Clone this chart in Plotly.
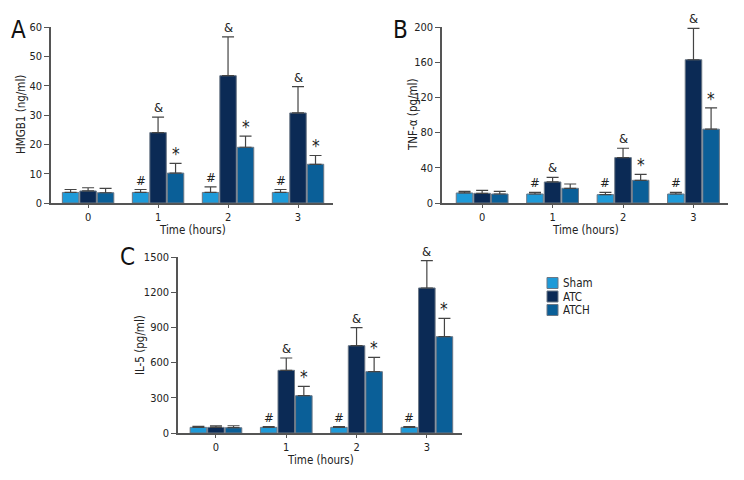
import plotly.graph_objects as go

groups = [0, 1, 2, 3]
tick_labels = ["0", "1", "2", "3"]
series_names = ["Sham", "ATC", "ATCH"]
series_colors = ["#1E9AD8", "#0B2A55", "#0A5F98"]

# Panel A: HMGB1 (ng/ml)
hmgb1_sham = [3.6, 3.6, 3.6, 3.6]
hmgb1_atc = [4.1, 24.0, 43.4, 30.7]
hmgb1_atch = [3.5, 10.2, 19.0, 13.2]
hmgb1_sham_err = [1.0, 1.0, 1.9, 1.0]
hmgb1_atc_err = [1.1, 5.3, 13.2, 9.0]
hmgb1_atch_err = [1.5, 3.3, 3.8, 3.0]
hmgb1_marks = [["", "#", "#", "#"], ["", "&", "&", "&"], ["", "*", "*", "*"]]

# Panel B: TNF-α (pg/ml)
tnf_sham = [11.4, 10.2, 9.5, 10.2]
tnf_atc = [11.0, 23.9, 51.6, 162.8]
tnf_atch = [10.2, 16.7, 25.8, 83.9]
tnf_sham_err = [1.9, 1.9, 2.6, 1.9]
tnf_atc_err = [3.4, 5.3, 10.6, 35.7]
tnf_atch_err = [3.0, 4.9, 6.8, 24.3]
tnf_marks = [["", "#", "#", "#"], ["", "&", "&", "&"], ["", "", "*", "*"]]

# Panel C: IL-5 (pg/ml)
il5_sham = [48, 48, 48, 48]
il5_atc = [48, 534, 744, 1236]
il5_atch = [45, 318, 523, 821]
il5_sham_err = [9, 6, 6, 6]
il5_atc_err = [12, 105, 154, 233]
il5_atch_err = [17, 80, 122, 156]
il5_marks = [["", "#", "#", "#"], ["", "&", "&", "&"], ["", "*", "*", "*"]]

x_title = "Time (hours)"

FONT = "Liberation Sans Narrow, DejaVu Sans Condensed, Arial Narrow, sans-serif"
AX = "#555555"
TXT = "#222222"

# page has default 8px body margin; figure occupies the rest of the window
OFF = 8
W, H = 744 - OFF, 480 - OFF


def px(x):
    return (x - OFF) / W


def py(y):
    return 1 - (y - OFF) / H


panels = [
    dict(letter="A", title="HMGB1 (ng/ml)", rng=[0, 60], dtick=10,
         vals=[hmgb1_sham, hmgb1_atc, hmgb1_atch],
         errs=[hmgb1_sham_err, hmgb1_atc_err, hmgb1_atch_err], marks=hmgb1_marks,
         xpx=(51, 333), ypx=(203, 27), xr=[-0.53, 3.5],
         letter_pos=(18, 30), ytitle_x=21, xtitle_y=230),
    dict(letter="B", title="TNF-α (pg/ml)", rng=[0, 200], dtick=40,
         vals=[tnf_sham, tnf_atc, tnf_atch],
         errs=[tnf_sham_err, tnf_atc_err, tnf_atch_err], marks=tnf_marks,
         xpx=(442, 728), ypx=(203, 27), xr=[-0.57, 3.49],
         letter_pos=(401, 30), ytitle_x=413, xtitle_y=230),
    dict(letter="C", title="IL-5 (pg/ml)", rng=[0, 1500], dtick=300,
         vals=[il5_sham, il5_atc, il5_atch],
         errs=[il5_sham_err, il5_atc_err, il5_atch_err], marks=il5_marks,
         xpx=(178, 462), ypx=(433, 257), xr=[-0.54, 3.5],
         letter_pos=(127, 257), ytitle_x=140, xtitle_y=460),
]

fig = go.Figure()
annotations = []
offsets = [-0.25, 0.0, 0.25]

for i, p in enumerate(panels):
    sfx = "" if i == 0 else str(i + 1)
    xa, ya = "x" + sfx, "y" + sfx
    for s in range(3):
        fig.add_trace(go.Bar(
            x=groups, y=p["vals"][s], name=series_names[s],
            marker=dict(color=series_colors[s], line=dict(color="#6b7785", width=1)),
            error_y=dict(type="data", array=p["errs"][s], arrayminus=[0] * 4,
                         symmetric=False, color="#444444", thickness=1.2, width=6),
            xaxis=xa, yaxis=ya, showlegend=False, offsetgroup=str(s),
        ))
        for g in groups:
            m = p["marks"][s][g]
            if m:
                annotations.append(dict(
                    x=g + offsets[s], y=p["vals"][s][g] + p["errs"][s][g],
                    xref=xa, yref=ya, text=m, showarrow=False, yanchor="bottom",
                    yshift=(-3 if m == "*" else 0),
                    font=dict(family=FONT, size=(17 if m == "*" else 13), color=TXT)))
    x0, x1 = p["xpx"]
    yb, yt = p["ypx"]
    fig.layout["xaxis" + sfx] = dict(
        domain=[px(x0), px(x1)], range=p["xr"], anchor=ya, tickvals=groups, ticktext=tick_labels,
        showline=True, linecolor=AX, linewidth=1.5, ticks="outside", ticklen=3,
        tickcolor=AX, showgrid=False, zeroline=False, automargin=False,
        tickfont=dict(family=FONT, size=11, color=TXT),
    )
    fig.layout["yaxis" + sfx] = dict(
        domain=[py(yb), py(yt)], range=p["rng"], dtick=p["dtick"], anchor=xa,
        showline=True, linecolor=AX, linewidth=1.5, ticks="outside", ticklen=5,
        tickcolor=AX, showgrid=False, zeroline=False, automargin=False,
        tickfont=dict(family=FONT, size=11, color=TXT),
    )
    # axis titles
    annotations.append(dict(x=px((x0 + x1) / 2), y=py(p["xtitle_y"]), xref="paper", yref="paper",
                            text=x_title, showarrow=False, xanchor="center", yanchor="middle",
                            font=dict(family=FONT, size=11.5, color=TXT)))
    annotations.append(dict(x=px(p["ytitle_x"]), y=py((yb + yt) / 2), xref="paper", yref="paper",
                            text=p["title"], showarrow=False, textangle=-90,
                            xanchor="center", yanchor="middle",
                            font=dict(family=FONT, size=11.5, color=TXT)))
    lx, ly = p["letter_pos"]
    annotations.append(dict(x=px(lx), y=py(ly), xref="paper", yref="paper",
                            text=p["letter"], showarrow=False, xanchor="center", yanchor="middle",
                            font=dict(family=FONT, size=24, color="#111")))

# manual legend
shapes = []
for s in range(3):
    yc = 283 + s * 13.5
    shapes.append(dict(type="rect", xref="paper", yref="paper",
                       x0=px(547), x1=px(558), y0=py(yc + 5.5), y1=py(yc - 5.5),
                       fillcolor=series_colors[s], line=dict(color="#6b7785", width=1)))
    annotations.append(dict(x=px(561), y=py(yc), xref="paper", yref="paper",
                            text=series_names[s], showarrow=False, xanchor="left", yanchor="middle",
                            font=dict(family=FONT, size=11.5, color=TXT)))

fig.update_layout(
    width=W, height=H, margin=dict(l=0, r=0, t=0, b=0),
    paper_bgcolor="white", plot_bgcolor="white",
    barmode="group", bargap=0.25, bargroupgap=0.06,
    annotations=annotations, shapes=shapes,
    font=dict(family=FONT, color=TXT),
)

fig.write_html("out.html")
